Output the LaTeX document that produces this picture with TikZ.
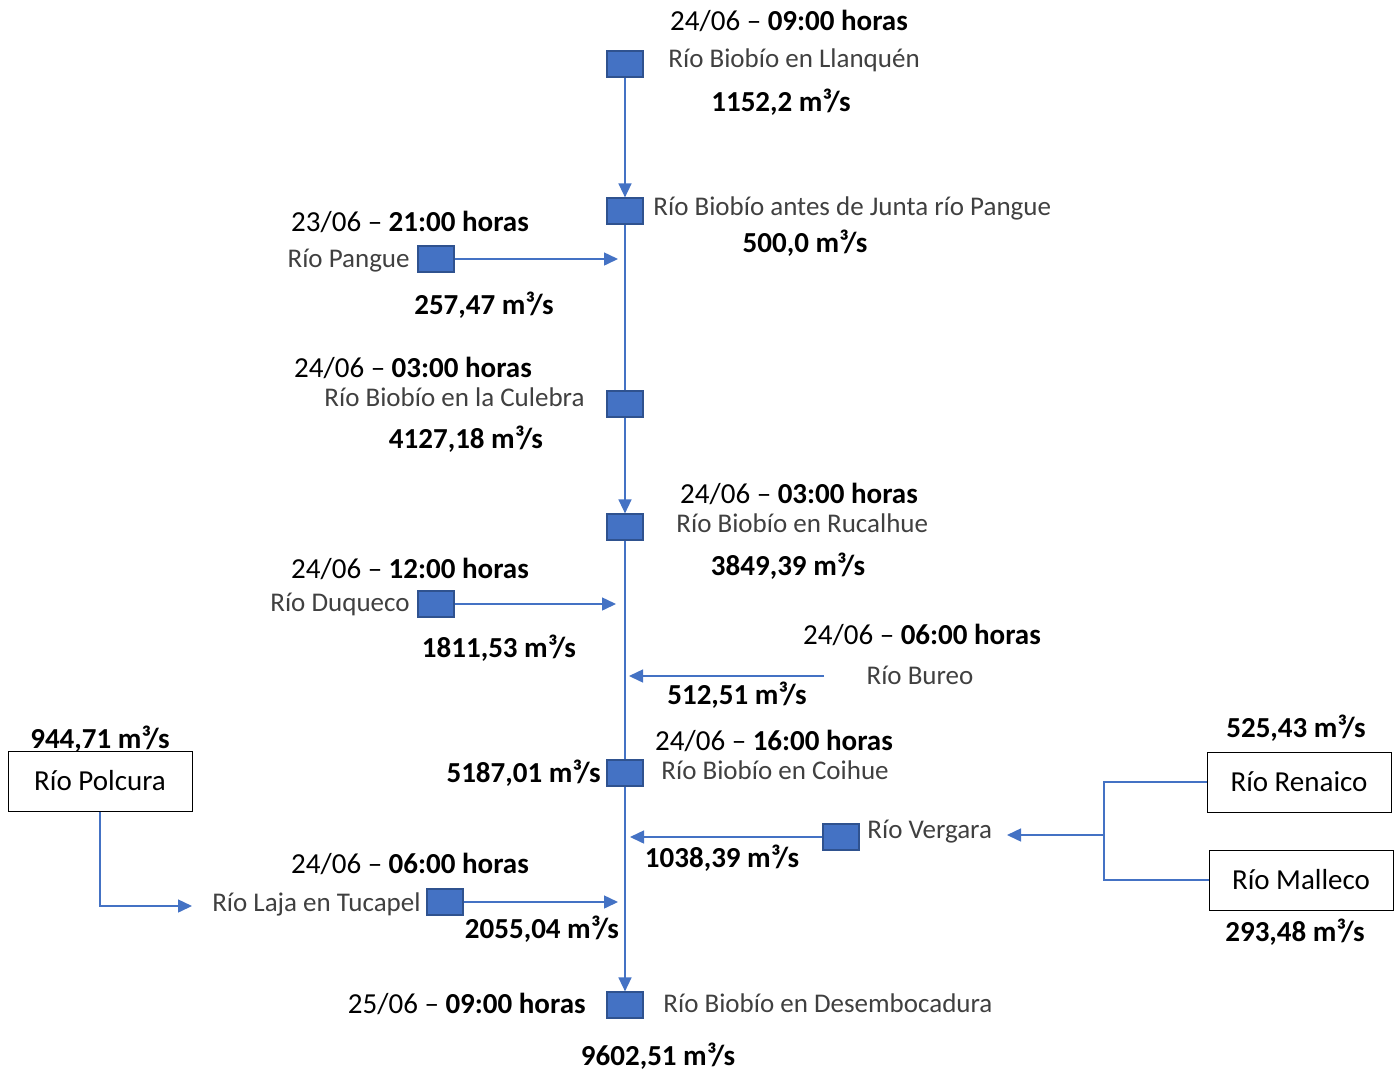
\documentclass[tikz,border=0pt]{standalone}
\usepackage{fontspec}
\setmainfont{Carlito}
\usetikzlibrary{arrows.meta, positioning, backgrounds}
\definecolor{riverblue}{RGB}{68,114,196}
\definecolor{riveredge}{RGB}{47,82,143}
\definecolor{namegray}{RGB}{64,64,64}
\newcommand{\caudal}[1]{\textbf{#1 m³/s}}
\newcommand{\fecha}[2]{#1 -- \textbf{#2 horas}}
\tikzset{
    station/.style={draw=riveredge, fill=riverblue, line width=0.6pt, minimum width=18pt, minimum height=13pt, inner sep=0pt},
    riverbox/.style={draw, line width=0.5pt, minimum width=92pt, minimum height=30pt, font=\fontsize{14.5}{17}\selectfont},
    rivername/.style={text=namegray, inner sep=0pt, font=\fontsize{13.5}{16}\selectfont},
    datelabel/.style={inner sep=0pt, font=\fontsize{14.5}{17}\selectfont},
    qlabel/.style={inner sep=0pt, font=\fontsize{14.5}{17}\selectfont},
    % tributaries join just short of the main line
    flow/.style={draw=riverblue, line width=0.75pt, -{Triangle[length=7pt, width=6.5pt]}},
    link/.style={draw=riverblue, line width=0.75pt},
}

\begin{document}
\begin{tikzpicture}[x=0.5pt, y=-0.5pt]
    \useasboundingbox (0,0) rectangle (1398,1072);

    % main course
    \node[station] (llanquen) at (625,64)   {};
    \node[station] (antes)    at (625,211)  {};
    \node[station] (culebra)  at (625,404)  {};
    \node[station] (rucalhue) at (625,527)  {};
    \node[station] (coihue)   at (625,773)  {};
    \node[station] (desemb)   at (625,1005) {};

    % tributaries
    \node[station] (pangue)  at (436,259) {};
    \node[station] (duqueco) at (436,604) {};
    \node[station] (vergara) at (841,837) {};
    \node[station] (laja)    at (445,902) {};

    \node[riverbox] (polcura) at (100,781)  {Río Polcura};
    \node[riverbox] (renaico) at (1299,782) {Río Renaico};
    \node[riverbox] (malleco) at (1301,880) {Río Malleco};

    \coordinate (jpangue)  at (618,259);
    \coordinate (jduqueco) at (616,604);
    \coordinate (bureo)    at (824,676);
    \coordinate (jbureo)   at (629,676);
    \coordinate (jvergara) at (630,837);
    \coordinate (jlaja)    at (618,902);
    \coordinate (split)    at (1104,835);
    \coordinate (tvergara) at (1007,835);
    \coordinate (tlaja)    at (192,906);

    % labels
    \node[datelabel] (d1) at (789,21) {\fecha{24/06}{09:00}};
    \node[rivername, anchor=west] (n1) at (668,60) {Río Biobío en Llanquén};
    \node[qlabel] (q1) at (781,102) {\caudal{1152,2}};

    \node[rivername, anchor=west] (n2) at (653,208) {Río Biobío antes de Junta río Pangue};
    \node[qlabel] (q2) at (805,243) {\caudal{500,0}};

    \node[datelabel] (d3) at (410,222) {\fecha{23/06}{21:00}};
    \node[rivername, anchor=east] (n3) at (410,261) {Río Pangue};
    \node[qlabel] (q3) at (484,305) {\caudal{257,47}};

    \node[datelabel] (d4) at (413,368) {\fecha{24/06}{03:00}};
    \node[rivername, anchor=east] (n4) at (585,397) {Río Biobío en la Culebra};
    \node[qlabel] (q4) at (466,439) {\caudal{4127,18}};

    \node[datelabel] (d5) at (799,494) {\fecha{24/06}{03:00}};
    \node[rivername, anchor=west] (n5) at (676,523) {Río Biobío en Rucalhue};
    \node[qlabel] (q5) at (788,566) {\caudal{3849,39}};

    \node[datelabel] (d6) at (410,569) {\fecha{24/06}{12:00}};
    \node[rivername, anchor=east] (n6) at (410,604) {Río Duqueco};
    \node[qlabel] (q6) at (499,648) {\caudal{1811,53}};

    \node[datelabel] (d7) at (922,635) {\fecha{24/06}{06:00}};
    \node[rivername] (n7) at (920,675) {Río Bureo};
    \node[qlabel] (q7) at (737,695) {\caudal{512,51}};

    \node[datelabel] (d8) at (774,741) {\fecha{24/06}{16:00}};
    \node[rivername, anchor=west] (n8) at (661,770) {Río Biobío en Coihue};
    \node[qlabel, anchor=east] (q8) at (601,773) {\caudal{5187,01}};

    \node[rivername, anchor=west] (n9) at (867,832) {Río Vergara};
    \node[qlabel] (q9) at (722,858) {\caudal{1038,39}};

    \node[qlabel] (q10) at (1296,728) {\caudal{525,43}};
    \node[qlabel] (q11) at (1295,932) {\caudal{293,48}};
    \node[qlabel] (q12) at (100,739)  {\caudal{944,71}};

    \node[datelabel] (d13) at (410,864) {\fecha{24/06}{06:00}};
    \node[rivername, anchor=east] (n13) at (421,904) {Río Laja en Tucapel};
    \node[qlabel] (q13) at (542,929) {\caudal{2055,04}};

    \node[datelabel, anchor=east] (d14) at (586,1004) {\fecha{25/06}{09:00}};
    \node[rivername, anchor=west] (n14) at (663,1003) {Río Biobío en Desembocadura};
    \node[qlabel] (q14) at (658,1056) {\caudal{9602,51}};

    % connectors
    \begin{scope}[on background layer]
        \draw[flow] (llanquen) -- (antes);
        \draw[flow] (antes) -- (rucalhue);
        \draw[flow] (rucalhue) -- (desemb);
    \end{scope}
    \draw[flow] (pangue) -- (jpangue);
    \draw[flow] (duqueco) -- (jduqueco);
    \draw[flow] (bureo) -- (jbureo);
    \draw[flow] (vergara) -- (jvergara);
    \draw[flow] (laja) -- (jlaja);
    \draw[link] (renaico.west) -| (split) |- (malleco.west);
    \draw[flow] (split) -- (tvergara);
    \draw[flow] (polcura.south) |- (tlaja);
\end{tikzpicture}
\end{document}
